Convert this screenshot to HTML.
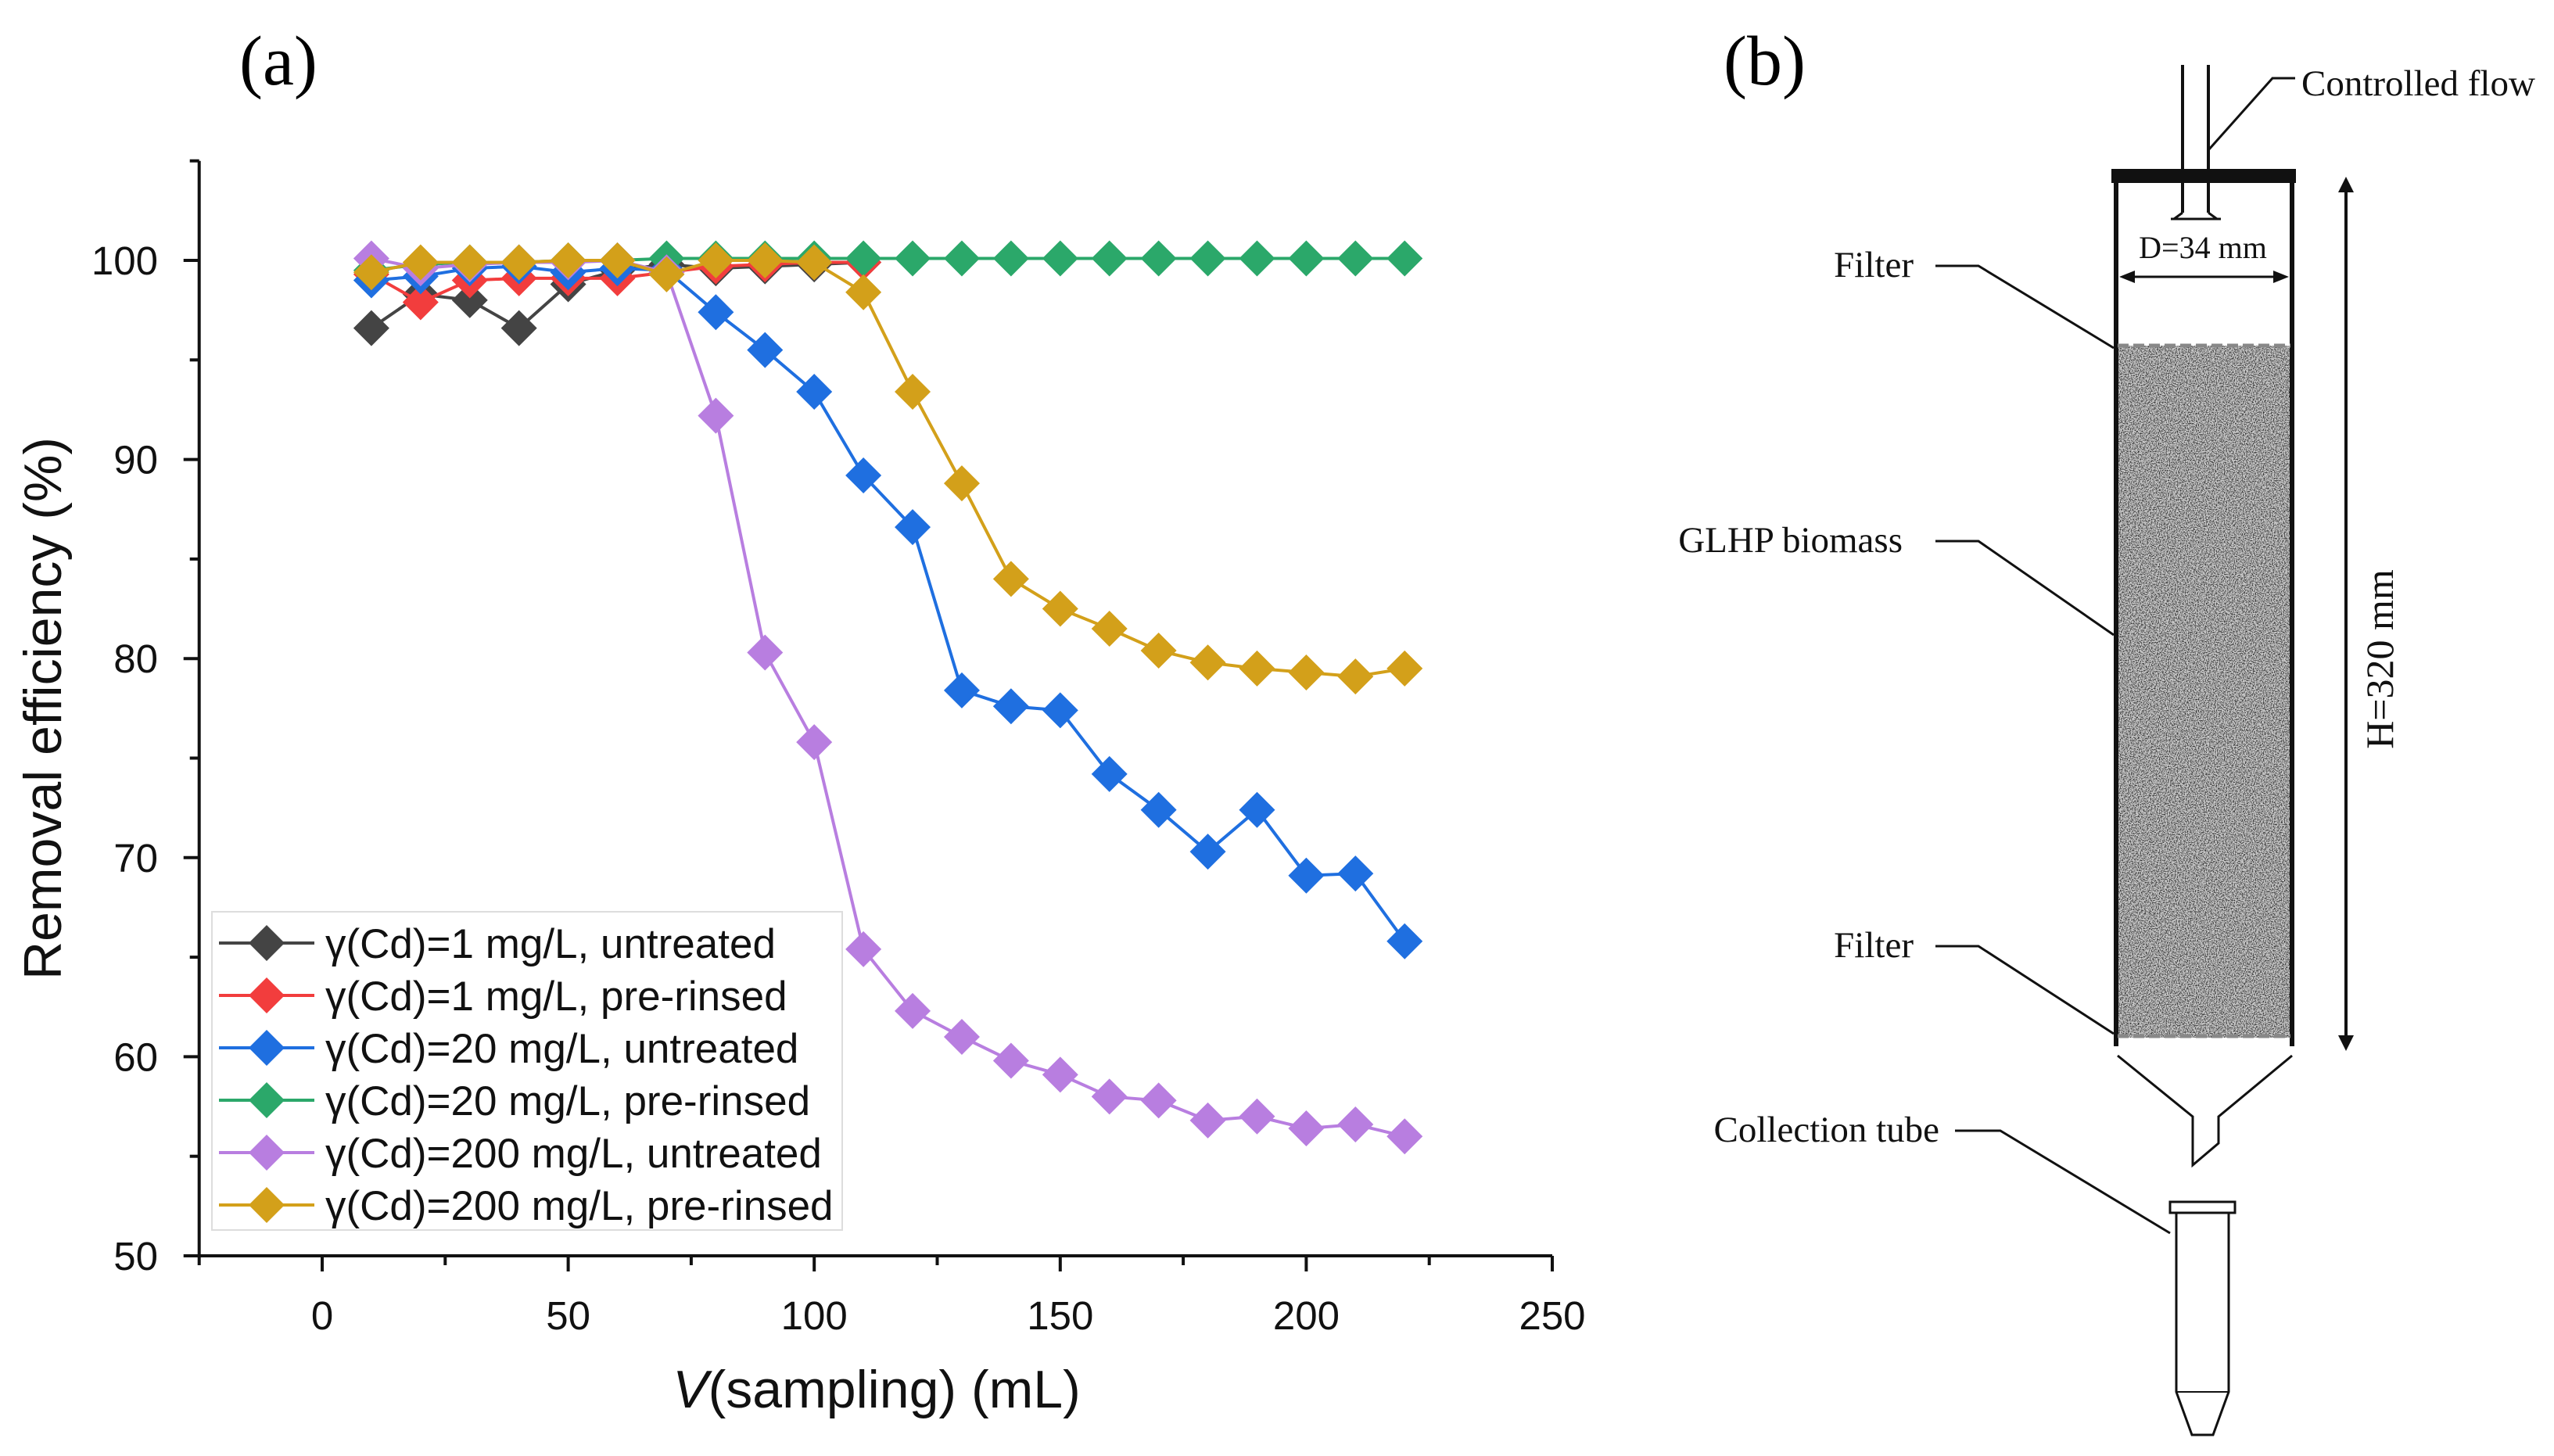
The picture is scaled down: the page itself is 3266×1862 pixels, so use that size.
<!DOCTYPE html>
<html><head><meta charset="utf-8"><style>
html,body{margin:0;padding:0;background:#fff;}
svg{display:block;}
text{font-family:"Liberation Sans",sans-serif;}
.serif{font-family:"Liberation Serif",serif;}
</style></head><body>
<svg id="fig" width="3266" height="1862" viewBox="0 0 3266 1862" xmlns="http://www.w3.org/2000/svg">
<defs>
<filter id="grain" x="0" y="0" width="100%" height="100%">
<feTurbulence type="fractalNoise" baseFrequency="0.7" numOctaves="3" seed="3" result="n"/>
<feColorMatrix type="matrix" values="0 0 0 0 0  0 0 0 0 0  0 0 0 0 0  3.2 0 0 0 -1.3" in="n" result="a"/>
<feComposite in="SourceGraphic" in2="a" operator="in"/>
</filter>
</defs>
<text class="serif" x="306" y="108" font-size="90">(a)</text>
<text class="serif" x="2204" y="108" font-size="90">(b)</text>
<g id="chart"></g>

<g id="schematic" stroke="#111" fill="none">
  <rect x="2708" y="442" width="221" height="885" fill="#d2d2d2" stroke="none"/>
  <rect x="2708" y="442" width="221" height="885" fill="#2a2a2a" stroke="none" filter="url(#grain)"/>
  <line x1="2791" y1="83" x2="2791" y2="272" stroke-width="4"/>
  <line x1="2824" y1="83" x2="2824" y2="272" stroke-width="4"/>
  <path d="M2776 280 H2840 M2791 272 L2780 280 M2824 272 L2835 280" stroke-width="3"/>
  <rect x="2700" y="216" width="236" height="18" fill="#111" stroke="none"/>
  <line x1="2706" y1="234" x2="2706" y2="1338" stroke-width="6"/>
  <line x1="2931" y1="234" x2="2931" y2="1338" stroke-width="6"/>
  <line x1="2708" y1="442" x2="2929" y2="442" stroke="#888" stroke-width="5" stroke-dasharray="14 6"/>
  <line x1="2708" y1="1325" x2="2929" y2="1325" stroke="#888" stroke-width="5" stroke-dasharray="14 6"/>
  <path d="M2708 1350 L2804 1428 L2804 1490 L2837 1462 L2837 1428 L2931 1350" stroke-width="3"/>
  <rect x="2775" y="1537" width="83" height="14" stroke-width="3"/>
  <path d="M2783 1551 V1780 L2803 1835 H2830 L2850 1780 V1551" stroke-width="3"/>
  <path d="M2783 1780 H2850" stroke-width="2"/>
  <line x1="3000" y1="238" x2="3000" y2="1332" stroke-width="4"/>
  <path d="M3000 226 L2990 246 L3010 246 Z M3000 1344 L2990 1324 L3010 1324 Z" fill="#111" stroke="none"/>
  <line x1="2722" y1="354" x2="2915" y2="354" stroke-width="3"/>
  <path d="M2710 354 L2730 346 L2730 362 Z M2927 354 L2907 346 L2907 362 Z" fill="#111" stroke="none"/>
  <path d="M2824 192 L2906 100 H2935" stroke-width="3"/>
  <path d="M2475 340 H2530 L2703 445" stroke-width="3"/>
  <path d="M2475 692 H2530 L2703 812" stroke-width="3"/>
  <path d="M2475 1210 H2530 L2703 1322" stroke-width="3"/>
  <path d="M2500 1446 H2558 L2775 1577" stroke-width="3"/>
</g>
<g class="serif" fill="#111" font-size="47">
  <text class="serif" x="2943" y="122">Controlled flow</text>
  <text class="serif" x="2817" y="330" font-size="40" text-anchor="middle">D=34 mm</text>
  <text class="serif" x="2447" y="354" text-anchor="end">Filter</text>
  <text class="serif" x="2433" y="706" text-anchor="end">GLHP biomass</text>
  <text class="serif" x="2447" y="1224" text-anchor="end">Filter</text>
  <text class="serif" x="2480" y="1460" text-anchor="end">Collection tube</text>
  <text class="serif" transform="translate(3060,843) rotate(-90)" font-size="50" text-anchor="middle">H=320 mm</text>
</g>
</svg>
<script>
const xVals=[10,20,30,40,50,60,70,80,90,100,110,120,130,140,150,160,170,180,190,200,210,220];
const seriesNames=["γ(Cd)=1 mg/L, untreated","γ(Cd)=1 mg/L, pre-rinsed","γ(Cd)=20 mg/L, untreated","γ(Cd)=20 mg/L, pre-rinsed","γ(Cd)=200 mg/L, untreated","γ(Cd)=200 mg/L, pre-rinsed"];
const seriesColors=["#444444","#f23d3d","#1f6fe0","#2ba86a","#b87ee0","#d3a01a"];
const cd1Untreated=[96.6,98.3,98.0,96.6,98.8,99.5,99.8,99.6,99.7,99.8,99.9];
const cd1Rinsed=[99.3,97.9,99.0,99.1,99.1,99.1,99.4,99.7,99.8,99.9,99.9];
const cd20Untreated=[99.0,99.2,99.6,99.7,99.4,99.6,99.5,97.4,95.5,93.4,89.2,86.6,78.4,77.6,77.4,74.2,72.4,70.3,72.4,69.1,69.2,65.8];
const cd20Rinsed=[99.5,99.8,99.9,99.9,100,100,100.1,100.1,100.1,100.1,100.1,100.1,100.1,100.1,100.1,100.1,100.1,100.1,100.1,100.1,100.1,100.1];
const cd200Untreated=[100.1,99.6,99.8,99.9,99.9,100,99.4,92.2,80.3,75.8,65.4,62.3,61.0,59.8,59.1,58.0,57.8,56.8,57.0,56.4,56.6,56.0];
const cd200Rinsed=[99.4,99.9,99.9,99.9,100,100,99.3,100,100,99.9,98.4,93.4,88.8,84.0,82.5,81.5,80.4,79.8,79.5,79.3,79.1,79.5];
const xTicks=[0,50,100,150,200,250];
const yTicks=[50,60,70,80,90,100];

const NS="http://www.w3.org/2000/svg";
const g=document.getElementById('chart');
const X0=412, XS=(1985-412)/250, Y0=1606, YS=(1606-333)/50;
const sx=v=>X0+v*XS, sy=v=>Y0-(v-50)*YS;
function el(t,a,p){const e=document.createElementNS(NS,t);for(const k in a)e.setAttribute(k,a[k]);(p||g).appendChild(e);return e;}
const xmin=-25,xmax=250,ymax=105;
const ax=el('line',{x1:sx(xmin),y1:sy(50),x2:sx(xmax),y2:sy(50),stroke:'#111','stroke-width':4});


const ay=el('line',{x1:sx(xmin),y1:sy(50),x2:sx(xmin),y2:sy(ymax),stroke:'#111','stroke-width':4});


for(let v=-25;v<=250;v+=25){const maj=v%50===0;el('line',{x1:sx(v),x2:sx(v),y1:sy(50),y2:sy(50)+(maj?20:12),stroke:'#111','stroke-width':4});}
for(let v=50;v<=105;v+=5){const maj=v%10===0;el('line',{x1:sx(xmin),x2:sx(xmin)-(maj?20:12),y1:sy(v),y2:sy(v),stroke:'#111','stroke-width':4});}
xTicks.forEach(v=>{const t=el('text',{x:sx(v),y:1700,'font-size':51,'text-anchor':'middle',fill:'#111'});t.textContent=v;

});
yTicks.forEach(v=>{const t=el('text',{x:202,y:sy(v)+18,'font-size':51,'text-anchor':'end',fill:'#111'});t.textContent=v;

});
const xt=el('text',{x:1121,y:1800,'font-size':68,'text-anchor':'middle',fill:'#111'});
xt.innerHTML='<tspan font-style="italic">V</tspan>(sampling) (mL)';


const yt=el('text',{transform:'translate(78,906) rotate(-90)','font-size':68,'text-anchor':'middle',fill:'#111'});
yt.textContent='Removal efficiency (%)';


const R=23;
function diamond(cx,cy,c,p){return el('path',{d:`M${cx} ${cy-R}L${cx+R} ${cy}L${cx} ${cy+R}L${cx-R} ${cy}Z`,fill:c,stroke:'none'},p);}
const all=[cd1Untreated,cd1Rinsed,cd20Untreated,cd20Rinsed,cd200Untreated,cd200Rinsed];
all.forEach((d,i)=>{
  const sg=el('g',{});
  
  
  const pts=d.map((v,j)=>sx(xVals[j])+','+sy(v)).join(' ');
  el('polyline',{points:pts,fill:'none',stroke:seriesColors[i],'stroke-width':4},sg);
  d.forEach((v,j)=>{const m=diamond(sx(xVals[j]),sy(v),seriesColors[i],sg);
  
  });
});
const lg=el('g',{});


el('rect',{x:271,y:1166,width:806,height:407,fill:'#fff',stroke:'#ddd','stroke-width':2},lg);
seriesNames.forEach((n,i)=>{
  const y=1206+i*67;
  const e=el('g',{},lg);
  
  
  el('line',{x1:280,x2:402,y1:y,y2:y,stroke:seriesColors[i],'stroke-width':4},e);
  diamond(341,y,seriesColors[i],e);
  const t=el('text',{x:416,y:y+19,'font-size':53,fill:'#111'},e);t.textContent=n;
});
</script>
</body></html>
